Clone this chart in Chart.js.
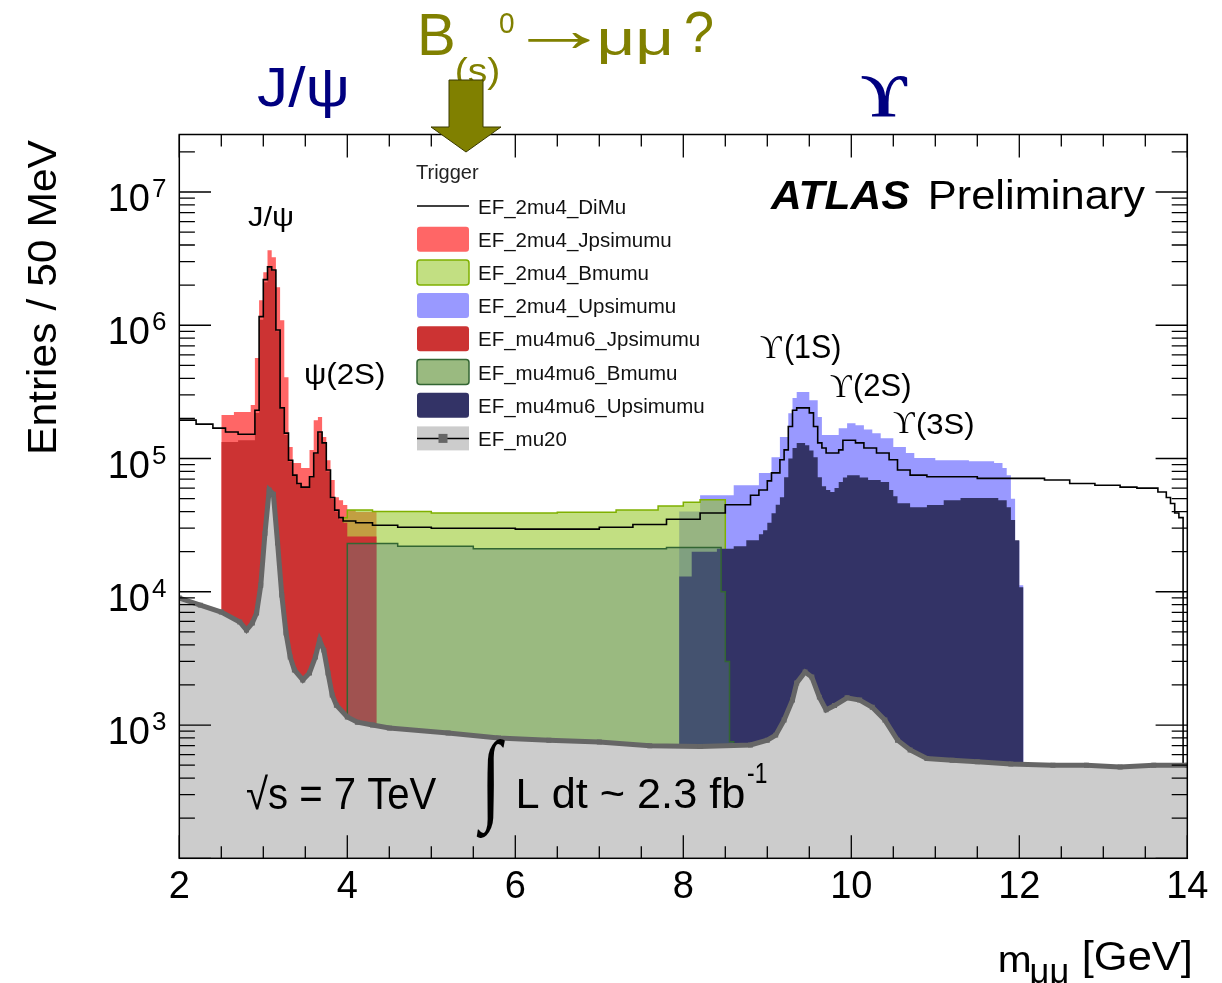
<!DOCTYPE html>
<html><head><meta charset="utf-8">
<script src="https://cdn.jsdelivr.net/npm/chart.js@4.4.0/dist/chart.umd.min.js"></script>
<style>html,body{margin:0;padding:0;background:#fff;}canvas{display:block;}</style>
</head><body>
<canvas id="c" width="1222" height="983" style="width:1222px;height:983px"></canvas>
<script>
// ---- data (left bin edges, bin contents, last edge) ----
const dimuEdges = [2.0,2.2,2.4,2.55,2.7,2.9,2.95,3.0,3.05,3.1,3.15,3.2,3.25,3.3,3.35,3.4,3.45,3.55,3.6,3.65,3.7,3.75,3.8,3.85,3.9,3.95,4.1,4.3,4.6,5.0,6.0,7.0,7.4,7.8,8.2,8.5,8.8,8.9,9.0,9.05,9.15,9.2,9.25,9.3,9.35,9.5,9.55,9.6,9.65,9.7,9.85,9.9,10.05,10.15,10.3,10.45,10.55,10.7,10.9,11.5,12.3,12.6,12.9,13.2,13.4,13.65,13.75,13.8,13.85,13.9];
const dimuVals = [1.94e5,1.81e5,1.69e5,1.58e5,1.52e5,2.3e5,1.16e6,2.2e6,2.74e6,2.6e6,9.2e5,2.4e5,1.55e5,9.7e4,7.5e4,6.5e4,6.1e4,7.3e4,1.1e5,1.58e5,1.31e5,8.2e4,5.1e4,4.1e4,3.6e4,3.4e4,3.3e4,3.16e4,3.05e4,3.0e4,2.95e4,3.05e4,3.2e4,3.5e4,3.9e4,4.5e4,5.3e4,5.8e4,6.8e4,7.8e4,9.8e4,1.16e5,1.74e5,2.3e5,2.4e5,2.2e5,1.74e5,1.31e5,1.2e5,1.1e5,1.16e5,1.37e5,1.31e5,1.2e5,1.1e5,9.8e4,8.2e4,7.5e4,7.3e4,7.1e4,6.9e4,6.5e4,6.3e4,6.1e4,6.0e4,5.6e4,5.1e4,4.6e4,3.9e4,3.6e4];
const dimuEnd = 13.95;

const jpsi2mu4Edges = [2.5,2.65,2.85,2.9,2.95,3.0,3.05,3.1,3.15,3.2,3.25,3.3,3.35,3.45,3.55,3.6,3.65,3.7,3.75,3.8,3.85,3.9,3.95,4.0,4.1];
const jpsi2mu4Vals = [2.12e5,2.23e5,2.52e5,5.67e5,1.54e6,2.5e6,3.66e6,3.24e6,1.93e6,1.09e6,4.08e5,1.22e5,9.25e4,8.48e4,1.16e5,1.94e5,2.05e5,1.45e5,9.7e4,6.9e4,5.13e4,4.87e4,4.47e4,4.1e4,3.96e4];
const jpsi2mu4End = 4.35;

const bmumu2mu4Edges = [3.9,3.95,4.0,4.3,5.0,6.5,7.2,7.7,8.0,8.2,8.5,8.55,8.6];
const bmumu2mu4Vals = [4.6e3,3.6e4,4.1e4,4.0e4,3.9e4,3.95e4,4.1e4,4.4e4,4.7e4,4.9e4,9.8e3,3.1e3,8.0e2];
const bmumu2mu4End = 8.65;

const upsi2mu4Edges = [7.95,8.2,8.6,8.9,9.05,9.15,9.25,9.3,9.35,9.5,9.6,9.65,9.75,9.85,9.95,10.05,10.15,10.25,10.35,10.5,10.65,10.75,11.0,11.4,11.7,11.8,11.85,11.9,11.95,12.0];
const upsi2mu4Vals = [4.0e4,5.3e4,6.3e4,7.8e4,1.02e5,1.45e5,2.19e5,2.84e5,3.15e5,2.74e5,2.05e5,1.5e5,1.5e5,1.69e5,1.84e5,1.78e5,1.65e5,1.55e5,1.42e5,1.22e5,1.1e5,1.01e5,9.7e4,9.55e4,9.25e4,8.48e4,7.5e4,5.0e4,2.4e4,1.12e4];
const upsi2mu4End = 12.05;

const jpsiMu4mu6Edges = [2.5,2.7,2.9,2.95,3.0,3.05,3.1,3.15,3.2,3.25,3.3,3.35,3.4,3.45,3.55,3.6,3.65,3.7,3.75,3.8,3.85,3.9,3.95,4.0];
const jpsiMu4mu6Vals = [1.33e5,1.37e5,2.2e5,1.1e6,2.1e6,2.7e6,2.55e6,9e5,2.35e5,1.5e5,9.5e4,7.4e4,6.4e4,6.0e4,7.2e4,1.08e5,1.55e5,1.3e5,8e4,5e4,4.0e4,3.5e4,3.3e4,2.6e4];
const jpsiMu4mu6End = 4.35;

const bmumuMu4mu6Edges = [4.0,4.6,5.5,7.0,7.8,8.45,8.5,8.55];
const bmumuMu4mu6Vals = [2.3e4,2.2e4,2.1e4,2.1e4,2.15e4,1.0e4,3.0e3,7.5e2];
const bmumuMu4mu6End = 8.6;

const upsiMu4mu6Edges = [7.95,8.1,8.4,8.6,8.75,8.9,8.95,9.0,9.05,9.1,9.15,9.2,9.25,9.3,9.35,9.45,9.5,9.55,9.6,9.65,9.7,9.75,9.8,9.85,9.9,9.95,10.1,10.2,10.35,10.45,10.5,10.55,10.7,10.9,11.1,11.3,11.75,11.85,11.9,11.95,12.0];
const upsiMu4mu6Vals = [1.3e4,2.0e4,2.1e4,2.2e4,2.44e4,2.7e4,2.9e4,3.3e4,3.89e4,4.5e4,5.13e4,7.24e4,1.0e5,1.2e5,1.31e5,1.26e5,1.15e5,1.02e5,7.24e4,6.2e4,5.8e4,5.6e4,6.0e4,6.65e4,7.2e4,7.5e4,7.2e4,6.9e4,6.65e4,5.8e4,5.2e4,4.62e4,4.31e4,4.47e4,4.87e4,5.05e4,4.87e4,4.31e4,3.45e4,2.44e4,1.08e4];
const upsiMu4mu6End = 12.05;

const mu20X = [2.0,2.25,2.5,2.72,2.8,2.87,2.92,2.97,3.02,3.07,3.12,3.17,3.22,3.27,3.32,3.37,3.47,3.55,3.62,3.67,3.72,3.77,3.82,3.87,4.0,4.12,4.3,4.5,5.2,5.8,6.4,7.0,7.6,8.2,8.8,9.0,9.1,9.2,9.3,9.35,9.45,9.53,9.62,9.7,9.8,9.95,10.1,10.25,10.4,10.55,10.7,10.9,11.2,11.5,11.9,12.4,12.8,13.2,13.6,14.0];
const mu20Y = [8970,7940,7050,5930,5160,5830,6920,11200,27500,58000,54000,23200,9440,4900,3240,2590,2180,2460,3240,4340,3650,2460,1680,1410,1150,1050,1000,950,870,800,770,745,700,690,708,770,840,1090,1540,2070,2500,2290,1620,1300,1400,1600,1540,1360,1090,770,650,560,545,530,510,500,500,484,500,500];

const xTickValues = [2,4,6,8,10,12,14];
const xTickLabels = ['2','4','6','8','10','12','14'];
const yTickValues = [1e3,1e4,1e5,1e6,1e7];
const yTickExps = ['3','4','5','6','7'];

// ---- helpers ----
const FLOOR = 1;
function histPoints(edges, vals, end, closeLeft) {
  const pts = [];
  if (closeLeft) pts.push({x: edges[0], y: FLOOR});
  for (let i = 0; i < edges.length; i++) pts.push({x: edges[i], y: vals[i]});
  pts.push({x: end, y: vals[vals.length - 1]});
  pts.push({x: end, y: FLOOR});
  return pts;
}
const LG_FILL = 'rgba(150,200,40,0.58)';
const DG_FILL = 'rgba(95,130,125,0.4)';

const SANS = "'Liberation Sans', Arial, Helvetica, sans-serif";
const SERIF = "'Liberation Serif', 'DejaVu Serif', 'Times New Roman', serif";

function fitText(ctx, str, font, color, x0, y0, x1, y1) {
  ctx.save();
  ctx.font = font; ctx.fillStyle = color;
  ctx.textAlign = 'left'; ctx.textBaseline = 'alphabetic';
  const m = ctx.measureText(str);
  const w = m.actualBoundingBoxLeft + m.actualBoundingBoxRight;
  const h = m.actualBoundingBoxAscent + m.actualBoundingBoxDescent;
  ctx.translate(x0, y0);
  ctx.scale((x1 - x0) / w, (y1 - y0) / h);
  ctx.fillText(str, m.actualBoundingBoxLeft, m.actualBoundingBoxAscent);
  ctx.restore();
}

const overlay = {
  id: 'overlay',
  beforeDraw(chart) {
    const ctx = chart.ctx;
    ctx.save(); ctx.fillStyle = '#fff'; ctx.fillRect(0, 0, chart.width, chart.height); ctx.restore();
  },
  afterDraw(chart) {
    const ctx = chart.ctx, a = chart.chartArea, xs = chart.scales.x, ys = chart.scales.y;
    ctx.save();
    // frame
    ctx.strokeStyle = '#000'; ctx.lineWidth = 1.5;
    ctx.strokeRect(a.left, a.top, a.right - a.left, a.bottom - a.top);
    ctx.lineWidth = 1.3;
    ctx.beginPath();
    for (let v = xs.min; v <= xs.max + 1e-6; v += 0.5) {
      const px = xs.getPixelForValue(v);
      const major = xTickValues.some(t => Math.abs(t - v) < 1e-6);
      const len = major ? 23 : 12;
      ctx.moveTo(px, a.bottom); ctx.lineTo(px, a.bottom - len);
      ctx.moveTo(px, a.top); ctx.lineTo(px, a.top + len);
    }
    for (let e = 2; e <= 7; e++) {
      for (let k = 1; k <= 9; k++) {
        const v = k * Math.pow(10, e);
        if (v < ys.min || v > ys.max) continue;
        const py = ys.getPixelForValue(v);
        const len = k === 1 ? 31.7 : 15.6;
        ctx.moveTo(a.left, py); ctx.lineTo(a.left + len, py);
        ctx.moveTo(a.right, py); ctx.lineTo(a.right - len, py);
      }
    }
    ctx.stroke();
    // tick labels
    ctx.fillStyle = '#000';
    ctx.font = `38px ${SANS}`; ctx.textAlign = 'center'; ctx.textBaseline = 'alphabetic';
    xTickValues.forEach((v, i) => ctx.fillText(xTickLabels[i], xs.getPixelForValue(v), 898));
    yTickValues.forEach((v, i) => {
      const py = ys.getPixelForValue(v);
      ctx.font = `38px ${SANS}`; ctx.textAlign = 'right';
      ctx.fillText('10', 150, py + 19);
      ctx.font = `26px ${SANS}`; ctx.textAlign = 'left';
      ctx.fillText(yTickExps[i], 152, py + 5);
    });
    ctx.restore();

    // axis titles
    ctx.save();
    ctx.translate(26, 452); ctx.rotate(-Math.PI / 2);
    fitText(ctx, 'Entries / 50 MeV', `42px ${SANS}`, '#000', 0, 0, 312, 30);
    ctx.restore();
    fitText(ctx, 'm', `38px ${SANS}`, '#000', 1000, 952, 1030, 972);
    fitText(ctx, 'μμ', `24px ${SANS}`, '#000', 1031, 964, 1068, 990);
    fitText(ctx, '[GeV]', `38px ${SANS}`, '#000', 1084, 940, 1190, 978);

    // in-plot labels
    fitText(ctx, 'J/ψ', `28px ${SANS}`, '#000', 248, 207, 293, 232);
    fitText(ctx, 'ψ(2S)', `28px ${SANS}`, '#000', 305, 362, 384, 390);
    fitText(ctx, 'ϒ', `30px ${SERIF}`, '#000', 760, 337, 782, 358);
    fitText(ctx, '(1S)', `28px ${SANS}`, '#000', 785, 335, 840, 365);
    fitText(ctx, 'ϒ', `30px ${SERIF}`, '#000', 830, 376, 852, 397);
    fitText(ctx, '(2S)', `28px ${SANS}`, '#000', 854, 374, 910, 403);
    fitText(ctx, 'ϒ', `30px ${SERIF}`, '#000', 893, 413, 915, 433);
    fitText(ctx, '(3S)', `28px ${SANS}`, '#000', 917, 412, 973, 440);
    fitText(ctx, 'ATLAS', `italic bold 40px ${SANS}`, '#000', 770, 180, 910, 209);
    fitText(ctx, 'Preliminary', `40px ${SANS}`, '#000', 931, 179, 1145, 217);
    fitText(ctx, '√s = 7 TeV', `38px ${SANS}`, '#000', 246, 773, 437, 810);
    fitText(ctx, '∫', `100px ${SERIF}`, '#000', 476, 738, 505, 838);
    fitText(ctx, 'L dt ~ 2.3 fb', `38px ${SANS}`, '#000', 519, 777, 744, 808);
    fitText(ctx, '-1', `24px ${SANS}`, '#000', 748, 762, 767, 783);

    // top annotations
    fitText(ctx, 'J/ψ', `48px ${SANS}`, '#000080', 257, 66, 347, 118);
    fitText(ctx, 'ϒ', `bold 60px ${SERIF}`, '#000080', 861, 76, 908, 117);
    fitText(ctx, 'B', `58px ${SANS}`, '#808000', 421, 14, 453, 55);
    fitText(ctx, '(s)', `30px ${SANS}`, '#808000', 456, 57, 499, 90);
    fitText(ctx, '0', `26px ${SANS}`, '#808000', 500, 13, 514, 33);
    fitText(ctx, '→', `40px ${SANS}`, '#808000', 528, 32, 590, 48);
    fitText(ctx, 'μμ', `56px ${SANS}`, '#808000', 600, 30, 670, 65);
    fitText(ctx, '?', `56px ${SANS}`, '#808000', 686, 12, 713, 52);
    // olive arrow
    ctx.save();
    ctx.fillStyle = '#808000'; ctx.strokeStyle = '#3a3a00'; ctx.lineWidth = 1;
    ctx.beginPath();
    ctx.moveTo(449, 80); ctx.lineTo(483, 80); ctx.lineTo(483, 127); ctx.lineTo(501, 127);
    ctx.lineTo(466, 152); ctx.lineTo(431, 127); ctx.lineTo(449, 127); ctx.closePath();
    ctx.fill(); ctx.stroke();
    ctx.restore();

    // legend
    ctx.save();
    ctx.fillStyle = '#222'; ctx.font = `20px ${SANS}`; ctx.textAlign = 'left'; ctx.textBaseline = 'alphabetic';
    ctx.fillText('Trigger', 416, 179);
    const ds = chart.data.datasets;
    ds.forEach((d, i) => {
      const cy = 206 + i * 33.2;
      const x0 = 417, w = 52, h = 25;
      if (d.legendKind === 'line') {
        ctx.strokeStyle = '#000'; ctx.lineWidth = 1.5;
        ctx.beginPath(); ctx.moveTo(x0, cy); ctx.lineTo(x0 + w, cy); ctx.stroke();
      } else if (d.legendKind === 'marker') {
        ctx.fillStyle = '#cccccc'; ctx.fillRect(x0, cy - 12, w, 24);
        ctx.strokeStyle = '#000'; ctx.lineWidth = 1.5;
        ctx.beginPath(); ctx.moveTo(x0, cy); ctx.lineTo(x0 + w, cy); ctx.stroke();
        ctx.fillStyle = '#666666'; ctx.fillRect(x0 + w / 2 - 4.5, cy - 4.5, 9, 9);
      } else {
        ctx.beginPath(); ctx.roundRect(x0, cy - h / 2, w, h, 3);
        ctx.fillStyle = '#fff'; ctx.fill();
        if (d.legendBase) { ctx.fillStyle = d.legendBase; ctx.fill(); }
        ctx.fillStyle = d.backgroundColor; ctx.fill();
        if (d.borderWidth > 0) { ctx.strokeStyle = d.borderColor; ctx.lineWidth = 1.5; ctx.stroke(); }
      }
      ctx.fillStyle = '#111'; ctx.font = `20.5px ${SANS}`;
      ctx.fillText(d.label, 478, cy + 7.5);
    });
    ctx.restore();
  }
};

const common = { stepped: true, pointRadius: 0, pointHoverRadius: 0, fill: 'start', tension: 0 };
const datasets = [
  Object.assign({}, common, { label: 'EF_2mu4_DiMu', legendKind: 'line', data: histPoints(dimuEdges, dimuVals, dimuEnd, false),
    borderColor: '#000', borderWidth: 1.6, fill: false, order: 1 }),
  Object.assign({}, common, { label: 'EF_2mu4_Jpsimumu', data: histPoints(jpsi2mu4Edges, jpsi2mu4Vals, jpsi2mu4End, true),
    backgroundColor: '#ff6666', borderColor: '#ff6666', borderWidth: 0, order: 7 }),
  Object.assign({}, common, { label: 'EF_2mu4_Bmumu', data: histPoints(bmumu2mu4Edges, bmumu2mu4Vals, bmumu2mu4End, true),
    backgroundColor: LG_FILL, borderColor: '#7fb000', borderWidth: 1.5, order: 5 }),
  Object.assign({}, common, { label: 'EF_2mu4_Upsimumu', data: histPoints(upsi2mu4Edges, upsi2mu4Vals, upsi2mu4End, true),
    backgroundColor: '#9999ff', borderColor: '#9999ff', borderWidth: 0, order: 6 }),
  Object.assign({}, common, { label: 'EF_mu4mu6_Jpsimumu', data: histPoints(jpsiMu4mu6Edges, jpsiMu4mu6Vals, jpsiMu4mu6End, true),
    backgroundColor: '#cc3333', borderColor: '#cc3333', borderWidth: 0, order: 4 }),
  Object.assign({}, common, { label: 'EF_mu4mu6_Bmumu', legendBase: LG_FILL, data: histPoints(bmumuMu4mu6Edges, bmumuMu4mu6Vals, bmumuMu4mu6End, true),
    backgroundColor: DG_FILL, borderColor: '#336633', borderWidth: 1.5, order: 2 }),
  Object.assign({}, common, { label: 'EF_mu4mu6_Upsimumu', data: histPoints(upsiMu4mu6Edges, upsiMu4mu6Vals, upsiMu4mu6End, true),
    backgroundColor: '#333366', borderColor: '#333366', borderWidth: 0, order: 3 }),
  { label: 'EF_mu20', legendKind: 'marker', data: mu20X.map((x, i) => ({x, y: mu20Y[i]})),
    stepped: false, tension: 0, fill: 'start', backgroundColor: '#cccccc', borderColor: '#666666', borderWidth: 5,
    pointRadius: 3.5, pointStyle: 'rect', pointBackgroundColor: '#666666', pointBorderWidth: 0, pointHoverRadius: 0, order: 0 }
];

new Chart(document.getElementById('c'), {
  type: 'line',
  data: { datasets },
  plugins: [overlay],
  options: {
    responsive: false, animation: false, devicePixelRatio: 1, events: [],
    layout: { padding: { top: 134.5, right: 34.7, left: 0, bottom: 0 } },
    plugins: { legend: { display: false }, tooltip: { enabled: false } },
    scales: {
      x: { type: 'linear', min: 2, max: 14, ticks: { display: false }, grid: { display: false }, border: { display: false },
           afterFit: s => { s.height = 124.7; } },
      y: { type: 'logarithmic', min: 100, max: 2.7e7, ticks: { display: false }, grid: { display: false }, border: { display: false },
           afterFit: s => { s.width = 179.3; } }
    }
  }
});
</script>
</body></html>
